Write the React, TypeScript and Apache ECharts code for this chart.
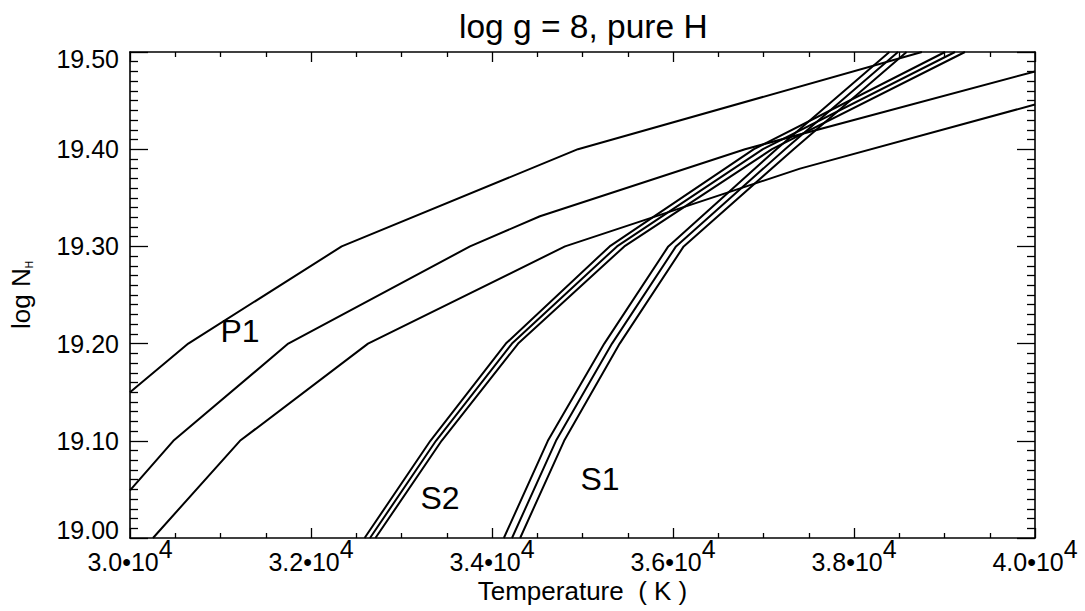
import React, { useEffect, useRef } from "react";
import * as echarts from "echarts";

// ---- data ----
const xTickMantissas = ["3.0", "3.2", "3.4", "3.6", "3.8", "4.0"];
const yTickLabels = ["19.00", "19.10", "19.20", "19.30", "19.40", "19.50"];

// P-family lines (temperature K, log N_H)
const pTop: number[][] = [
  [30000, 19.15], [30644, 19.2], [32339, 19.3], [34950, 19.4], [38750, 19.5],
];
const pMid: number[][] = [
  [30000, 19.049], [30479, 19.1], [31749, 19.2], [33757, 19.3], [34530, 19.331],
  [36796, 19.4], [40000, 19.48],
];
const pBot: number[][] = [
  [30254, 19.0], [31215, 19.1], [32630, 19.2], [34807, 19.3], [37403, 19.38],
  [40000, 19.446],
];

// S2 triple
const s2Left: number[][] = [
  [32592, 19.0], [33319, 19.1], [34153, 19.2], [35300, 19.3], [36894, 19.4], [39006, 19.5],
];
const s2Mid: number[][] = [
  [32652, 19.0], [33381, 19.1], [34221, 19.2], [35381, 19.3], [36994, 19.4], [39116, 19.5],
];
const s2Right: number[][] = [
  [32712, 19.0], [33443, 19.1], [34289, 19.2], [35462, 19.3], [37094, 19.4], [39226, 19.5],
];

// S1 triple
const s1Left: number[][] = [
  [34131, 19.0], [34617, 19.1], [35241, 19.2], [35948, 19.3], [37143, 19.4], [38391, 19.5],
];
const s1Mid: number[][] = [
  [34221, 19.0], [34707, 19.1], [35326, 19.2], [36033, 19.3], [37238, 19.4], [38486, 19.5],
];
const s1Right: number[][] = [
  [34311, 19.0], [34797, 19.1], [35411, 19.2], [36118, 19.3], [37333, 19.4], [38581, 19.5],
];

const FONT = "'Liberation Sans', Arial, Helvetica, sans-serif";

export default function App() {
  const ref = useRef<HTMLDivElement>(null);

  useEffect(() => {
    if (!ref.current) return;
    const chart = echarts.init(ref.current, undefined, { renderer: "svg" });

    const lineSeries = (name: string, data: number[][]) => ({
      name,
      type: "line",
      data,
      xAxisIndex: 0,
      yAxisIndex: 0,
      showSymbol: false,
      symbol: "none",
      silent: true,
      clip: true,
      lineStyle: { color: "#000", width: 2 },
      emphasis: { disabled: true },
    });

    const axisLine = { show: true, lineStyle: { color: "#000", width: 1.6 } };
    const tickStyle = { color: "#000", width: 1.3 };

    const xBase = {
      type: "value",
      min: 30000,
      max: 40000,
      interval: 2000,
      axisLine,
      splitLine: { show: false },
      minorSplitLine: { show: false },
      axisTick: { show: true, inside: true, length: 10, lineStyle: tickStyle },
      minorTick: { show: true, splitNumber: 4, length: 5, lineStyle: tickStyle },
    };
    const yBase = {
      type: "value",
      min: 19.0,
      max: 19.5,
      interval: 0.1,
      axisLine,
      splitLine: { show: false },
      minorSplitLine: { show: false },
      axisTick: { show: true, inside: true, length: 18, lineStyle: tickStyle },
      minorTick: { show: true, splitNumber: 10, length: 8, lineStyle: tickStyle },
    };

    chart.setOption({
      animation: false,
      backgroundColor: "#fff",
      textStyle: { fontFamily: FONT, color: "#000" },
      grid: {
        left: 130, right: 50, top: 52, bottom: 73,
        containLabel: false, outerBoundsMode: "none",
      },
      title: {
        text: "log g = 8, pure H",
        left: 454,
        top: 4,
        textStyle: { fontFamily: FONT, fontSize: 33.5, fontWeight: "normal", color: "#000" },
      },
      xAxis: [
        {
          ...xBase,
          position: "bottom",
          axisLabel: {
            show: true,
            margin: -2,
            color: "#000",
            formatter: (v: number) => {
              const i = Math.round((v - 30000) / 2000);
              return `{m|${xTickMantissas[i]}\u202210}{e|4}`;
            },
            rich: {
              m: { fontFamily: FONT, fontSize: 25, lineHeight: 25, verticalAlign: "bottom", color: "#000" },
              e: {
                fontFamily: FONT, fontSize: 25, lineHeight: 38, verticalAlign: "top",
                padding: [0, 0, 13, 0], color: "#000",
              },
            },
          },
          name: "Temperature  ( K )",
          nameLocation: "middle",
          nameGap: 40,
          nameMoveOverlap: false,
          nameTextStyle: { fontFamily: FONT, fontSize: 26, color: "#000" },
        },
        {
          ...xBase,
          position: "top",
          axisLabel: { show: false },
        },
      ],
      yAxis: [
        {
          ...yBase,
          position: "left",
          axisLabel: {
            show: true,
            margin: 11,
            color: "#000",
            fontFamily: FONT,
            fontSize: 25,
            formatter: (v: number) => {
              const i = Math.round((v - 19.0) / 0.1);
              const t = yTickLabels[i];
              if (i === 0) return `{lo|${t}}`;
              if (i === yTickLabels.length - 1) return `{hi|${t}}`;
              return `{n|${t}}`;
            },
            rich: {
              n: { fontFamily: FONT, fontSize: 25, color: "#000" },
              lo: { fontFamily: FONT, fontSize: 25, color: "#000", padding: [0, 0, 17, 0] },
              hi: { fontFamily: FONT, fontSize: 25, color: "#000", padding: [14, 0, 0, 0] },
            },
          },
          name: "{a|log N}{s|H}",
          nameLocation: "middle",
          nameGap: 96,
          nameRotate: 90,
          nameMoveOverlap: false,
          nameTextStyle: {
            fontFamily: FONT,
            color: "#000",
            rich: {
              a: { fontFamily: FONT, fontSize: 26, lineHeight: 26, verticalAlign: "top", color: "#000" },
              s: { fontFamily: FONT, fontSize: 10, lineHeight: 10, verticalAlign: "bottom", color: "#000" },
            },
          },
        },
        {
          ...yBase,
          position: "right",
          axisLabel: { show: false },
        },
      ],
      graphic: [
        { type: "text", x: 240, y: 331, silent: true,
          style: { text: "P1", fontFamily: FONT, fontSize: 32, fill: "#000", align: "center", verticalAlign: "middle" } },
        { type: "text", x: 440, y: 498, silent: true,
          style: { text: "S2", fontFamily: FONT, fontSize: 32, fill: "#000", align: "center", verticalAlign: "middle" } },
        { type: "text", x: 600, y: 479, silent: true,
          style: { text: "S1", fontFamily: FONT, fontSize: 32, fill: "#000", align: "center", verticalAlign: "middle" } },
      ],
      series: [
        lineSeries("P top", pTop),
        lineSeries("P middle", pMid),
        lineSeries("P bottom", pBot),
        lineSeries("S2 a", s2Left),
        lineSeries("S2 b", s2Mid),
        lineSeries("S2 c", s2Right),
        lineSeries("S1 a", s1Left),
        lineSeries("S1 b", s1Mid),
        lineSeries("S1 c", s1Right),
      ],
    });

    return () => chart.dispose();
  }, []);

  return (
    <div
      ref={ref}
      style={{ position: "fixed", left: 0, top: 0, width: 1085, height: 611, background: "#fff" }}
    />
  );
}
